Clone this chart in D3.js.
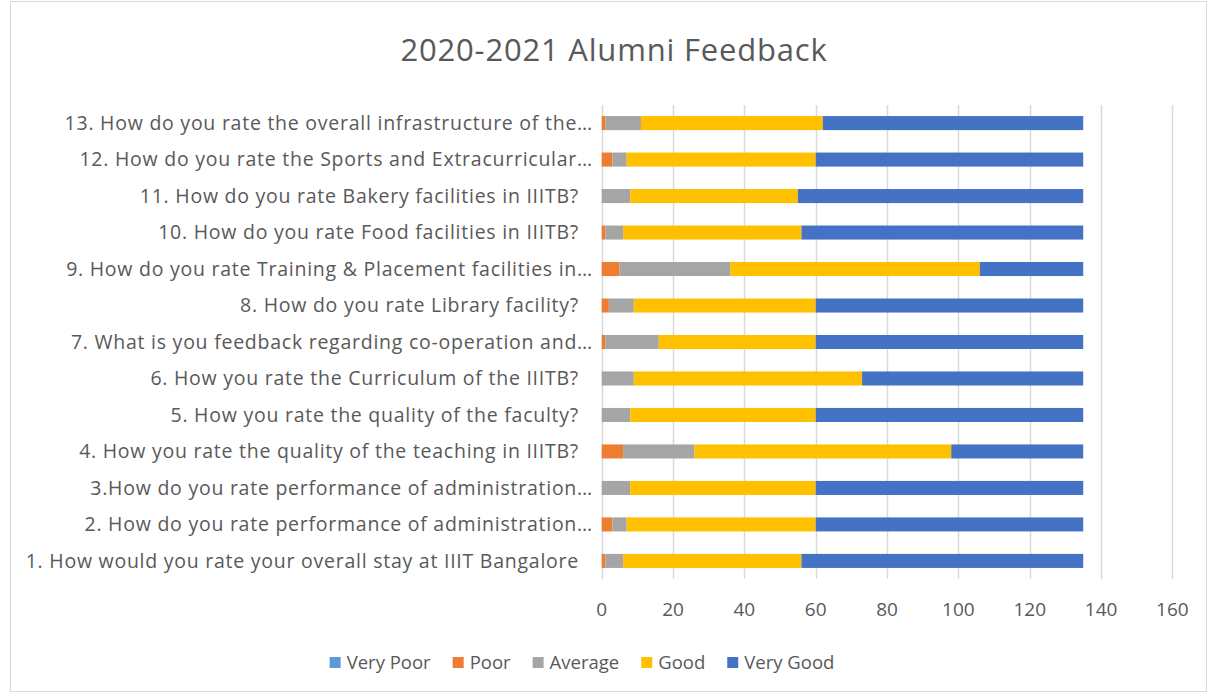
<!DOCTYPE html>
<html lang="en">
<head>
    <meta charset="UTF-8">
    <title>2020-2021 Alumni Feedback</title>
    <script src="https://d3js.org/d3.v7.min.js"></script>
    <style>
        body { margin: 0; background: #fff; }
        text { font-family: "Open Sans", sans-serif; fill: #595959; }
    </style>
</head>
<body>
    <div id="chart"></div>
    <script>
        var width = 1217,
            height = 697;

        // questions, bottom to top as in the sheet
        var questions = [
            '1. How would you rate your overall stay at IIIT Bangalore',
            '2. How do you rate performance of administration…',
            '3.How do you rate performance of administration…',
            '4. How you rate the quality of the teaching in IIITB?',
            '5. How you rate the quality of the faculty?',
            '6. How you rate the Curriculum of the IIITB?',
            '7. What is you feedback regarding co-operation and…',
            '8. How do you rate Library facility?',
            '9. How do you rate Training & Placement facilities in…',
            '10. How do you rate Food facilities in IIITB?',
            '11. How do you rate Bakery facilities in IIITB?',
            '12. How do you rate the Sports and Extracurricular…',
            '13. How do you rate the overall infrastructure of the…'
        ];
        var keys = ['Very Poor', 'Poor', 'Average', 'Good', 'Very Good'];
        var veryPoor = [0, 0, 0, 0, 0, 0, 0, 0, 0, 0, 0, 0, 0];
        var poor     = [1, 3, 0, 6, 0, 0, 1, 2, 5, 1, 0, 3, 1];
        var average  = [5, 4, 8, 20, 8, 9, 15, 7, 31, 5, 8, 4, 10];
        var good     = [50, 53, 52, 72, 52, 64, 44, 51, 70, 50, 47, 53, 51];
        var veryGood = [79, 75, 75, 37, 75, 62, 75, 75, 29, 79, 80, 75, 73];
        var xTicks = [0, 20, 40, 60, 80, 100, 120, 140, 160];

        var colors = ['#5B9BD5', '#ED7D31', '#A5A5A5', '#FFC000', '#4472C4'];

        var series = [veryPoor, poor, average, good, veryGood];
        var data = questions.map(function (q, i) {
            var row = { q: q };
            keys.forEach(function (k, j) { row[k] = series[j][i]; });
            return row;
        });

        var svg = d3.select('#chart')
            .append('svg')
            .attr('width', width)
            .attr('height', height);

        // chart border
        svg.append('rect')
            .attr('x', 10.5).attr('y', 1.5)
            .attr('width', 1196).attr('height', 690)
            .attr('fill', 'none')
            .attr('stroke', '#D9D9D9');

        svg.append('text')
            .attr('x', 614).attr('y', 61)
            .attr('text-anchor', 'middle')
            .style('font-size', '31px')
            .style('letter-spacing', '0.8px')
            .text('2020-2021 Alumni Feedback');

        var x = d3.scaleLinear().domain([0, 160]).range([601.7, 1172.4]);
        var y = d3.scaleBand()
            .domain(questions.slice().reverse())
            .range([104.75, 579.25])
            .paddingInner(0.615)
            .paddingOuter(0.31);

        // grid
        svg.append('g')
            .selectAll('line')
            .data(xTicks)
            .enter()
            .append('line')
            .attr('x1', function (d) { return Math.round(x(d)) + 0.5; })
            .attr('x2', function (d) { return Math.round(x(d)) + 0.5; })
            .attr('y1', 105)
            .attr('y2', 579)
            .attr('stroke', '#D9D9D9')
            .attr('stroke-width', 1.5);

        svg.append('g')
            .selectAll('text')
            .data(xTicks)
            .enter()
            .append('text')
            .attr('x', function (d) { return x(d); })
            .attr('y', 616)
            .attr('text-anchor', 'middle')
            .style('font-size', '19px')
            .text(function (d) { return d; });

        // category labels
        svg.append('g')
            .selectAll('text')
            .data(questions)
            .enter()
            .append('text')
            .attr('x', function (d) { return d.slice(-1) === '…' ? 593 : 579; })
            .attr('y', function (d) { return y(d) + y.bandwidth() / 2; })
            .attr('dy', '0.35em')
            .attr('text-anchor', 'end')
            .style('font-size', '19.5px')
            .style('letter-spacing', '0.75px')
            .text(function (d) { return d; });

        var stacked = d3.stack().keys(keys)(data);

        svg.append('g')
            .selectAll('g')
            .data(stacked)
            .enter()
            .append('g')
            .attr('fill', function (d, i) { return colors[i]; })
            .selectAll('rect')
            .data(function (d) { return d; })
            .enter()
            .append('rect')
            .attr('x', function (d) { return x(d[0]); })
            .attr('width', function (d) { return x(d[1]) - x(d[0]); })
            .attr('y', function (d) { return y(d.data.q); })
            .attr('height', y.bandwidth());

        // legend
        var legend = svg.append('g');
        var items = legend.selectAll('g')
            .data(keys)
            .enter()
            .append('g');
        items.append('rect')
            .attr('width', 11).attr('height', 11)
            .attr('y', 657)
            .attr('fill', function (d, i) { return colors[i]; });
        items.append('text')
            .attr('x', 17)
            .attr('y', 663)
            .attr('dy', '0.35em')
            .style('font-size', '18.5px')
            .text(function (d) { return d; });
        var pos = 0;
        var offsets = [];
        items.each(function () {
            offsets.push(pos);
            pos += 17 + this.querySelector('text').getComputedTextLength() + 22;
        });
        var total = pos - 22;
        var start = 582 - total / 2;
        items.attr('transform', function (d, i) { return 'translate(' + (start + offsets[i]) + ',0)'; });
    </script>
</body>
</html>
